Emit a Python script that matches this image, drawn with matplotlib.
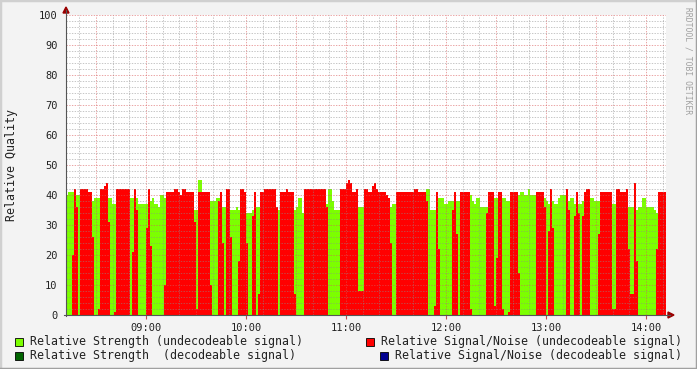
import numpy as np
import matplotlib.pyplot as plt
from matplotlib.lines import Line2D
from matplotlib.patches import Rectangle, Polygon

# time axis: 08:12 .. 14:12, one sample every 1.2 minutes
start_min = 8 * 60 + 12
step_min = 1.2

# Relative Signal/Noise (undecodeable signal)
snr_undec = [
    0, 0, 0, 20, 42, 36, 0, 42, 42, 42,
    42, 41, 41, 26, 0, 0, 2, 42, 42, 43,
    44, 31, 0, 0, 1, 42, 42, 42, 42, 42,
    42, 42, 0, 21, 42, 35, 0, 0, 0, 0,
    29, 42, 23, 0, 0, 0, 0, 0, 0, 10,
    41, 41, 41, 41, 42, 42, 41, 40, 42, 42,
    41, 41, 41, 41, 31, 2, 41, 41, 41, 41,
    41, 41, 10, 0, 0, 0, 38, 41, 24, 0,
    42, 42, 26, 0, 0, 0, 18, 42, 42, 41,
    24, 0, 0, 33, 41, 0, 7, 41, 41, 42,
    42, 42, 42, 42, 42, 36, 0, 41, 41, 41,
    42, 41, 41, 41, 7, 0, 0, 0, 0, 42,
    42, 42, 42, 42, 42, 42, 42, 42, 42, 42,
    36, 0, 0, 0, 0, 0, 0, 42, 42, 42,
    44, 45, 44, 41, 41, 42, 8, 8, 8, 42,
    42, 41, 41, 43, 44, 42, 41, 41, 41, 41,
    40, 39, 24, 0, 0, 41, 41, 41, 41, 41,
    41, 41, 41, 41, 42, 42, 41, 41, 41, 41,
    38, 0, 0, 0, 3, 41, 22, 0, 0, 0,
    0, 0, 0, 35, 41, 27, 0, 41, 41, 41,
    41, 41, 2, 0, 0, 0, 0, 0, 0, 0,
    34, 41, 41, 41, 3, 19, 41, 41, 2, 0,
    0, 1, 41, 41, 41, 41, 14, 0, 0, 0,
    0, 0, 0, 0, 0, 41, 41, 41, 41, 36,
    0, 28, 42, 29, 0, 0, 0, 0, 0, 0,
    42, 35, 0, 0, 33, 41, 34, 0, 33, 41,
    42, 42, 0, 0, 0, 0, 27, 41, 41, 41,
    41, 41, 41, 2, 2, 42, 42, 41, 41, 41,
    42, 22, 7, 7, 44, 18, 0, 0, 0, 0,
    0, 0, 0, 0, 0, 22, 41, 41, 41, 41,
]

# Relative Strength (undecodeable signal)
strength_undec = [
    40, 41, 41, 41, 0, 40, 40, 0, 0, 0,
    0, 0, 0, 38, 39, 39, 39, 0, 0, 0,
    0, 39, 39, 37, 37, 0, 0, 0, 0, 0,
    0, 0, 39, 39, 0, 39, 37, 37, 37, 37,
    37, 0, 38, 39, 37, 37, 36, 40, 40, 39,
    0, 0, 0, 0, 0, 0, 0, 0, 0, 0,
    0, 0, 0, 0, 35, 35, 45, 45, 0, 0,
    0, 0, 38, 38, 38, 39, 39, 0, 36, 36,
    0, 0, 35, 35, 35, 36, 35, 0, 0, 0,
    34, 34, 34, 35, 0, 36, 36, 0, 0, 0,
    0, 0, 0, 0, 0, 35, 35, 0, 0, 0,
    0, 0, 0, 0, 35, 36, 39, 39, 34, 0,
    0, 0, 0, 0, 0, 0, 0, 0, 0, 0,
    37, 42, 42, 38, 35, 35, 35, 0, 0, 0,
    0, 0, 0, 0, 0, 0, 36, 36, 36, 0,
    0, 0, 0, 0, 0, 0, 0, 0, 0, 0,
    0, 0, 36, 37, 37, 0, 0, 0, 0, 0,
    0, 0, 0, 0, 0, 0, 0, 0, 0, 0,
    42, 42, 35, 35, 35, 0, 39, 39, 39, 37,
    37, 38, 38, 38, 0, 38, 38, 0, 0, 0,
    0, 0, 40, 38, 37, 39, 39, 36, 36, 36,
    36, 0, 0, 0, 39, 39, 0, 0, 39, 39,
    38, 38, 0, 0, 0, 0, 40, 41, 41, 40,
    40, 42, 40, 40, 40, 0, 0, 0, 0, 39,
    38, 37, 0, 38, 37, 37, 39, 40, 40, 40,
    0, 38, 39, 39, 37, 0, 37, 37, 38, 0,
    0, 0, 39, 39, 38, 38, 38, 0, 0, 0,
    0, 0, 0, 37, 37, 0, 0, 0, 0, 0,
    0, 36, 36, 36, 0, 35, 36, 36, 39, 39,
    36, 36, 36, 36, 35, 34, 0, 0, 0, 0,
]

hour_ticks = [540, 600, 660, 720, 780, 840]
hour_labels = ["09:00", "10:00", "11:00", "12:00", "13:00", "14:00"]
y_ticks = [0, 10, 20, 30, 40, 50, 60, 70, 80, 90, 100]

legend_labels = [
    "Relative Strength (undecodeable signal)",
    "Relative Signal/Noise (undecodeable signal)",
    "Relative Strength  (decodeable signal)",
    "Relative Signal/Noise (decodeable signal)",
]
legend_colors = ["#7cff00", "#ff0000", "#006400", "#000090"]

W, H = 697, 369
MONO = "DejaVu Sans Mono"


def px(x, y):
    # pixel position -> figure fraction
    return x / W, 1 - y / H


fig = plt.figure(figsize=(W / 100, H / 100), dpi=100, facecolor="#f3f3f3")
ax = fig.add_axes([66 / W, (H - 315) / H, 600 / W, 300 / H])
ax.set_facecolor("white")

edges = start_min + step_min * np.arange(len(snr_undec) + 1)
ax.stairs(strength_undec, edges, fill=True, color=legend_colors[0], lw=0, zorder=1)
ax.stairs(snr_undec, edges, fill=True, color=legend_colors[1], lw=0, zorder=2)

ax.set_xlim(start_min, start_min + 360)
ax.set_ylim(0, 100)

# rrdtool style dotted grid, drawn over the areas
minor_c = (0.55, 0.55, 0.55, 0.5)
major_c = (0.85, 0.35, 0.35, 0.55)
for m in range(start_min - start_min % 10 + 10, start_min + 360, 10):
    ax.axvline(m, color=major_c if m % 30 == 0 else minor_c, lw=0.7, dashes=(1.4, 1.4), zorder=3)
for v in range(2, 101, 2):
    ax.axhline(v, color=major_c if v % 10 == 0 else minor_c, lw=0.7, dashes=(1.4, 1.4), zorder=3)

for s in ax.spines.values():
    s.set_visible(False)
ax.set_xticks(hour_ticks)
ax.set_xticklabels(hour_labels, family=MONO, fontsize=7.5, color="#222222")
ax.set_yticks(y_ticks)
ax.set_yticklabels([str(v) for v in y_ticks], family=MONO, fontsize=7.5, color="#222222")
ax.tick_params(axis="x", length=3, color="#c05050", pad=3)
ax.tick_params(axis="y", length=0, pad=6)

# axes lines with arrow heads
fig.add_artist(Line2D(*zip(px(66, 316), px(66, 10)), color="#555555", lw=0.8))
fig.add_artist(Line2D(*zip(px(64, 315), px(670, 315)), color="#555555", lw=0.8))
fig.add_artist(Polygon([px(63, 13), px(69, 13), px(66, 7)], closed=True,
                       transform=fig.transFigure, color="#9a0000"))
fig.add_artist(Polygon([px(668, 312), px(668, 318), px(674, 315)], closed=True,
                       transform=fig.transFigure, color="#9a0000"))

fig.text(*px(12, 165), "Relative Quality", rotation=90, ha="center", va="center",
         family=MONO, fontsize=8.4, color="#222222")
fig.text(*px(688, 61), "RRDTOOL / TOBI OETIKER", rotation=270, ha="center", va="center",
         family=MONO, fontsize=5.8, color="#a0a0a0")

# legend
legend_pos = [(15, 341), (366, 341), (15, 355), (380, 355)]
for (lx, ly), lab, col in zip(legend_pos, legend_labels, legend_colors):
    fig.add_artist(Rectangle(px(lx, ly + 4.5), 8 / W, 8 / H, transform=fig.transFigure,
                             facecolor=col, edgecolor="black", lw=0.6))
    fig.text(*px(lx + 15, ly), lab, ha="left", va="center", family=MONO,
             fontsize=8.4, color="#222222")

# outer frame
fig.add_artist(Line2D([0, 0, 1], [0, 1, 1], transform=fig.transFigure, color="#d0d0d0", lw=2.5))
fig.add_artist(Line2D([0, 1, 1], [0, 0, 1], transform=fig.transFigure, color="#a0a0a0", lw=2.5))

fig.savefig("out.png", dpi=100, facecolor=fig.get_facecolor())
